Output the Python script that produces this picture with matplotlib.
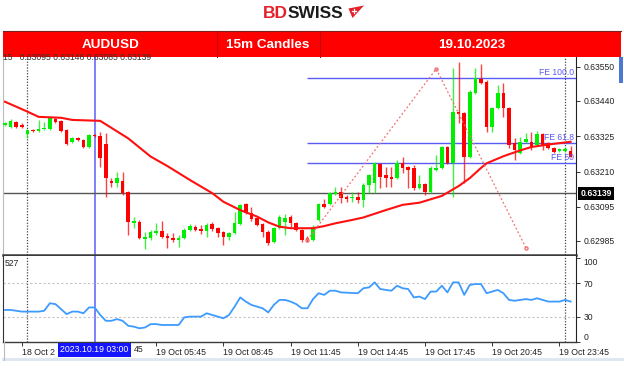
import numpy as np
import matplotlib.pyplot as plt
import matplotlib.transforms as mtransforms
from matplotlib.patches import Rectangle, Polygon

plt.rcParams['font.family'] = ['Liberation Sans', 'DejaVu Sans']

W, H = 624, 368

# AUDUSD 15m candles, 18 Oct 23:00 -> 20 Oct 00:15
opens = [0.63362, 0.63355, 0.63371, 0.63362, 0.63332, 0.63345, 0.63342, 0.63349, 0.63349, 0.63381,
         0.63375, 0.63345, 0.63306, 0.63319, 0.63313, 0.63290, 0.63329, 0.63326, 0.63300, 0.63180,
         0.63173, 0.63180, 0.63144, 0.63043, 0.63046, 0.62991, 0.62994, 0.63011, 0.63017, 0.63001,
         0.62994, 0.62988, 0.62994, 0.63020, 0.63030, 0.63024, 0.63017, 0.63040, 0.63027, 0.63014,
         0.62998, 0.63011, 0.63040, 0.63105, 0.63076, 0.63059, 0.63040, 0.63014, 0.62981, 0.63027,
         0.63046, 0.63063, 0.63043, 0.63020, 0.62994, 0.62988, 0.63053, 0.63105, 0.63105, 0.63137,
         0.63144, 0.63128, 0.63125, 0.63128, 0.63118, 0.63167, 0.63173, 0.63235, 0.63199, 0.63193,
         0.63189, 0.63238, 0.63225, 0.63222, 0.63157, 0.63170, 0.63144, 0.63215, 0.63222, 0.63290,
         0.63238, 0.63404, 0.63401, 0.63258, 0.63466, 0.63511, 0.63501, 0.63355, 0.63417, 0.63466,
         0.63417, 0.63303, 0.63271, 0.63306, 0.63306, 0.63296, 0.63332, 0.63303, 0.63287, 0.63277,
         0.63277, 0.63277]
highs = [0.63371, 0.63381, 0.63375, 0.63368, 0.63349, 0.63349, 0.63378, 0.63371, 0.63388, 0.63388,
         0.63378, 0.63349, 0.63322, 0.63322, 0.63316, 0.63332, 0.63332, 0.63339, 0.63336, 0.63189,
         0.63209, 0.63209, 0.63147, 0.63063, 0.63053, 0.63014, 0.63020, 0.63043, 0.63050, 0.63011,
         0.63011, 0.63004, 0.63027, 0.63040, 0.63037, 0.63037, 0.63043, 0.63046, 0.63030, 0.63017,
         0.63014, 0.63079, 0.63105, 0.63108, 0.63095, 0.63063, 0.63043, 0.63020, 0.63030, 0.63069,
         0.63072, 0.63069, 0.63046, 0.63024, 0.63001, 0.63037, 0.63108, 0.63121, 0.63144, 0.63160,
         0.63160, 0.63134, 0.63144, 0.63144, 0.63173, 0.63202, 0.63241, 0.63238, 0.63225, 0.63225,
         0.63248, 0.63258, 0.63228, 0.63232, 0.63199, 0.63173, 0.63228, 0.63264, 0.63293, 0.63293,
         0.63547, 0.63566, 0.63404, 0.63475, 0.63547, 0.63560, 0.63508, 0.63420, 0.63492, 0.63498,
         0.63420, 0.63319, 0.63322, 0.63336, 0.63339, 0.63342, 0.63336, 0.63306, 0.63290, 0.63287,
         0.63290, 0.63293]
lows = [0.63358, 0.63352, 0.63352, 0.63352, 0.63319, 0.63339, 0.63339, 0.63345, 0.63345, 0.63368,
        0.63339, 0.63296, 0.63303, 0.63309, 0.63287, 0.63287, 0.63322, 0.63225, 0.63128, 0.63160,
        0.63160, 0.63134, 0.63004, 0.63027, 0.62991, 0.62959, 0.62988, 0.63004, 0.62994, 0.62962,
        0.62981, 0.62965, 0.62991, 0.63017, 0.63017, 0.63007, 0.62998, 0.63017, 0.62998, 0.62972,
        0.62988, 0.63007, 0.63037, 0.63072, 0.63050, 0.63033, 0.62998, 0.62972, 0.62978, 0.63024,
        0.63004, 0.63030, 0.63017, 0.62981, 0.62981, 0.62985, 0.63050, 0.63092, 0.63102, 0.63134,
        0.63108, 0.63112, 0.63112, 0.63108, 0.63095, 0.63141, 0.63141, 0.63157, 0.63160, 0.63160,
        0.63186, 0.63206, 0.63157, 0.63150, 0.63154, 0.63134, 0.63141, 0.63212, 0.63219, 0.63235,
        0.63128, 0.63368, 0.63173, 0.63254, 0.63462, 0.63495, 0.63339, 0.63339, 0.63414, 0.63388,
        0.63287, 0.63248, 0.63267, 0.63303, 0.63280, 0.63293, 0.63280, 0.63284, 0.63271, 0.63274,
        0.63274, 0.63258]
closes = [0.63368, 0.63375, 0.63355, 0.63355, 0.63345, 0.63342, 0.63349, 0.63352, 0.63384, 0.63371,
          0.63342, 0.63300, 0.63319, 0.63313, 0.63290, 0.63329, 0.63326, 0.63254, 0.63189, 0.63173,
          0.63189, 0.63141, 0.63046, 0.63050, 0.62994, 0.62998, 0.63014, 0.63017, 0.62998, 0.62994,
          0.62988, 0.62994, 0.63020, 0.63033, 0.63020, 0.63017, 0.63037, 0.63024, 0.63011, 0.62998,
          0.63011, 0.63043, 0.63102, 0.63076, 0.63056, 0.63037, 0.63014, 0.62978, 0.63027, 0.63063,
          0.63059, 0.63043, 0.63020, 0.62988, 0.62988, 0.63030, 0.63105, 0.63095, 0.63141, 0.63144,
          0.63125, 0.63121, 0.63128, 0.63118, 0.63167, 0.63199, 0.63238, 0.63193, 0.63189, 0.63186,
          0.63238, 0.63222, 0.63215, 0.63157, 0.63170, 0.63144, 0.63222, 0.63222, 0.63290, 0.63238,
          0.63404, 0.63397, 0.63258, 0.63469, 0.63514, 0.63498, 0.63355, 0.63417, 0.63466, 0.63417,
          0.63296, 0.63280, 0.63306, 0.63316, 0.63290, 0.63332, 0.63293, 0.63287, 0.63274, 0.63284,
          0.63284, 0.63258]

# moving average, read at these candle indices
ma_idx = [0, 4, 6, 10, 12, 17, 22, 26, 29, 33, 37, 39, 42, 45, 47, 49, 51, 55, 57, 59,
          62, 64, 68, 71, 74, 78, 81, 83, 85, 86, 89, 92, 94, 97, 101]
ma_val = [0.63437, 0.63405, 0.63388, 0.63385, 0.63378, 0.63375, 0.63318, 0.63259, 0.63228, 0.63183,
          0.63140, 0.63112, 0.63085, 0.63064, 0.63045, 0.63031, 0.63026, 0.63026, 0.63033, 0.63042,
          0.63053, 0.63061, 0.63085, 0.63102, 0.63109, 0.63131, 0.63163, 0.63189, 0.63222, 0.63237,
          0.63260, 0.63279, 0.63290, 0.63298, 0.63307]

# RSI
rsi_idx = [0, 1, 3, 6, 7, 8, 9, 11, 12, 13, 14, 15, 16, 17, 18, 19, 20, 21, 22, 23,
           24, 25, 26, 27, 28, 31, 32, 33, 35, 36, 37, 39, 40, 41, 42, 43, 44, 46, 47, 48,
           49, 50, 51, 52, 53, 54, 55, 56, 57, 58, 59, 60, 63, 64, 65, 66, 67, 69, 70, 71,
           72, 73, 74, 75, 76, 77, 78, 79, 80, 81, 82, 83, 84, 85, 86, 87, 88, 89, 90, 91,
           93, 94, 95, 97, 99, 100, 101]
rsi_val = [38, 38, 36, 36, 37, 46, 45, 33, 36, 36, 34, 41, 41, 32, 25, 25, 27, 25, 19, 18,
           16, 17, 21, 21, 20, 20, 29, 30, 30, 34, 32, 28, 32, 42, 53, 48, 44, 40, 35, 44,
           50, 50, 48, 45, 40, 40, 51, 58, 56, 61, 61, 59, 58, 64, 65, 71, 63, 61, 67, 64,
           63, 53, 54, 51, 60, 60, 67, 59, 71, 71, 56, 68, 69, 69, 58, 60, 62, 58, 50, 49,
           51, 50, 52, 48, 48, 50, 48]

# fibonacci expansion drawing
fe_idx = [54, 77, 93]
fe_price = [0.62988, 0.63544, 0.62963]
fe_levels = [0.63515, 0.63304, 0.63239]
fe_labels = ['FE 100.0', 'FE 61.8', 'FE 50']

last_price = 0.63139
price_ticks = [0.63550, 0.63440, 0.63325, 0.63210, 0.63095, 0.62985]
rsi_ticks = [0, 30, 70, 100]
time_idx = [3, 15, 27, 39, 51, 63, 75, 87, 99]
# first two labels are partly covered by the cursor date box, only these parts show
time_labels = ['18 Oct 2', '', '19 Oct 05:45', '19 Oct 08:45', '19 Oct 11:45',
               '19 Oct 14:45', '19 Oct 17:45', '19 Oct 20:45', '19 Oct 23:45']
hidden_tail = '45'
day_sep_idx = [4, 100]
cursor_idx = 16
cursor_label = '2023.10.19 03:00'

fig = plt.figure(figsize=(W / 100, H / 100), dpi=100)
fig.patch.set_facecolor('white')


def px_axes(x0, y0, x1, y1, **kw):
    return fig.add_axes([x0 / W, 1 - y1 / H, (x1 - x0) / W, (y1 - y0) / H], **kw)


ax = px_axes(3, 57, 576, 255)
rsi_ax = px_axes(3, 256, 576, 342)
xlim = (-0.36, 101.96)

o = np.array(opens)
hi = np.array(highs)
lo = np.array(lows)
c = np.array(closes)
x = np.arange(len(o))
up = c >= o
col = np.where(up, '#00ee00', '#ff0000')

# candles
ax.vlines(x, lo, hi, colors=col, lw=1.0, alpha=0.75, zorder=3)
body = np.maximum(np.abs(c - o), 0.00004)
ax.bar(x, body, bottom=np.minimum(o, c), width=0.62, color=col, lw=0, zorder=4)

ax.plot(ma_idx, ma_val, color='#ff1010', lw=1.5, zorder=5)
ax.axhline(last_price, color='#555555', lw=1.0, zorder=2)

ax.hlines(fe_levels, fe_idx[0], xlim[1], color='#5a5af5', lw=1.0, zorder=2)
for lvl, lab in zip(fe_levels, fe_labels):
    ax.annotate(lab, (xlim[1], lvl), xytext=(-1.5, 0.3), textcoords='offset points',
                ha='right', va='bottom', color='#5a5af5', fontsize=6.2, zorder=6)
ax.plot(fe_idx, fe_price, color='#f07070', lw=0.9, ls=(0, (1.5, 1.8)),
        marker='o', ms=2.2, mfc='none', mec='#f07070', zorder=6)

for a in (ax, rsi_ax):
    for k in day_sep_idx:
        a.axvline(k, color='#444444', lw=0.9, ls=(0, (1, 1.3)), zorder=1)
    a.axvline(cursor_idx, color='#6a6aff', lw=1.2, zorder=1)
    a.set_xlim(*xlim)
    a.set_facecolor('white')
    a.spines['top'].set_visible(False)
    a.spines['right'].set_color('#222222')
    a.spines['right'].set_linewidth(0.8)
    a.spines['left'].set_color('#bbbbbb')
    a.spines['left'].set_linewidth(0.8)
    a.spines['bottom'].set_color('#3a3a3a')
    a.yaxis.tick_right()
    a.tick_params(axis='y', direction='out', length=3, width=0.7, color='#333333',
                  labelsize=6.2, labelcolor='#222222', pad=2.5)

ax.spines['bottom'].set_linewidth(1.8)
ax.set_ylim(0.62939, 0.635825)
ax.set_xticks([])
ax.set_yticks(price_ticks)
ax.set_yticklabels(['%.5f' % p for p in price_ticks])

blend = mtransforms.blended_transform_factory(ax.transAxes, ax.transData)
ax.text(1.008, last_price, '%.5f' % last_price, transform=blend, ha='left', va='center',
        color='white', fontsize=6.2, fontweight='bold',
        bbox=dict(facecolor='black', edgecolor='none', pad=1.6), zorder=7, clip_on=False)

# RSI panel
rsi_ax.spines['bottom'].set_linewidth(1.0)
rsi_ax.spines['left'].set_color('#333333')
for lvl in (30, 70):
    rsi_ax.axhline(lvl, color='#c4c4c4', lw=0.8, ls=(0, (2, 2)), zorder=1)
rsi_ax.plot(rsi_idx, rsi_val, color='#3d9bff', lw=1.3, zorder=3)
rsi_ax.set_ylim(-0.4, 102.6)
rsi_ax.set_yticks(rsi_ticks)
rsi_ax.set_yticklabels([str(v) for v in rsi_ticks])
for t, v in zip(rsi_ax.get_yticklabels(), rsi_ticks):
    if v == 0:
        t.set_va('bottom')
    elif v == 100:
        t.set_va('top')
rsi_ax.text(0.002, 0.96, '527', transform=rsi_ax.transAxes, ha='left', va='top',
            fontsize=6.2, color='#222222')
rsi_ax.set_xticks(time_idx)
rsi_ax.set_xticklabels(time_labels, ha='left')
rsi_ax.tick_params(axis='x', direction='out', length=3, width=0.7, color='#333333',
                   labelsize=6.3, labelcolor='#222222', pad=1.5)

# overlay in pixel units: logo, banner, frame bits
ov = fig.add_axes([0, 0, 1, 1], zorder=10)
ov.set_xlim(0, W)
ov.set_ylim(H, 0)
ov.axis('off')
ov.patch.set_alpha(0)

ov.text(3, 62, '15   0.63095 0.63146 0.63085 0.63139', fontsize=6.2, color='#333333',
        ha='left', va='bottom')
ov.add_patch(Rectangle((3, 30.5), 618, 26.5, facecolor='#ff0000', edgecolor='none'))
ov.plot([3, 621], [30.8, 30.8], color='#7a2020', lw=0.8)
for sx in (217, 320):
    ov.plot([sx, sx], [30.5, 57], color='#c80000', lw=0.8)
for tx, txt in ((111, 'AUDUSD'), (268, '15m Candles'), (472, '19.10.2023')):
    ov.text(tx, 44.5, txt, color='white', fontsize=9.7, fontweight='bold',
            ha='center', va='center')

ov.text(288, 18.5, 'BD', color='#e3212b', fontsize=12.5, fontweight='bold', ha='right', va='baseline')
ov.text(288, 18.5, 'SWISS', color='#1b1b1b', fontsize=12.5, fontweight='bold', ha='left', va='baseline')
ov.add_patch(Polygon([(348.5, 8.5), (364, 5.5), (352.5, 18)], closed=True,
                     facecolor='#e3212b', edgecolor='none'))
ov.plot([351.5, 355.5], [10.5, 10.5], color='white', lw=0.9)
ov.plot([353.5, 353.5], [8.5, 12.5], color='white', lw=0.9)

ov.add_patch(Rectangle((619, 57), 4, 26, facecolor='#4b78d2', edgecolor='none'))
ov.plot([3, 624], [359, 359], color='#dde6f1', lw=2)
ov.plot([3.5, 3.5], [342, 360], color='#bbbbbb', lw=0.8)

cur_x = 3 + (cursor_idx - xlim[0]) / (xlim[1] - xlim[0]) * 573
ov.text(cur_x, 350, cursor_label, color='white', fontsize=6.3, ha='center', va='center',
        bbox=dict(facecolor='#1414ff', edgecolor='none', pad=1.7))
ov.text(cur_x + 39.5, 350, hidden_tail, color='#222222', fontsize=6.3, ha='left', va='center')

fig.savefig('out.png', dpi=100, facecolor='white')
